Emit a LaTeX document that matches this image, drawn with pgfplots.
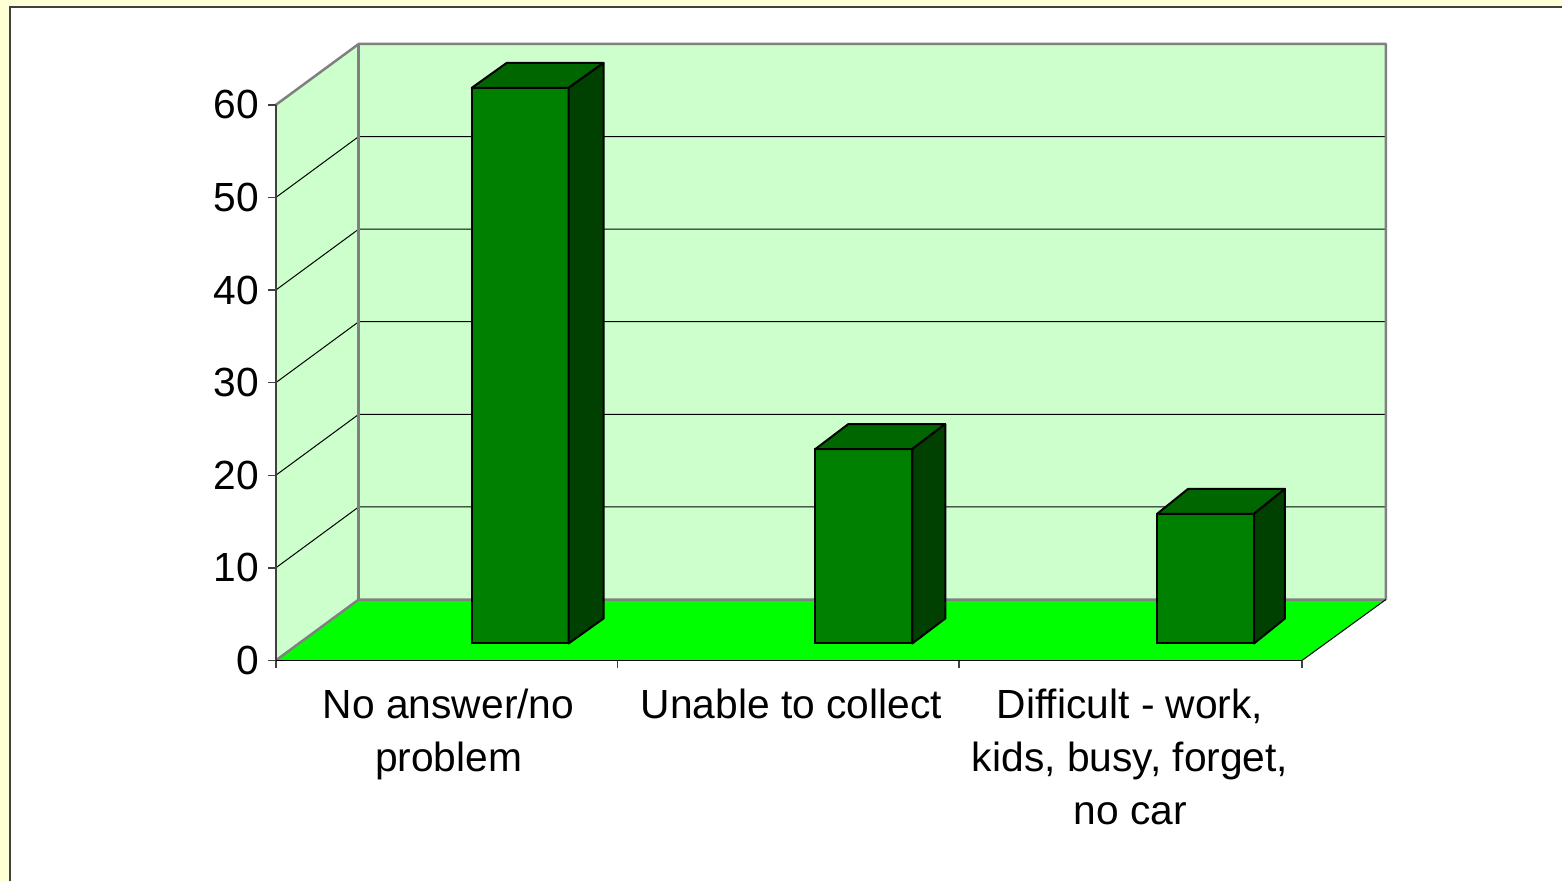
\documentclass[border=0pt]{standalone}
\usepackage{fontspec}
\setmainfont{Liberation Sans}
\usepackage{pgfplots}
\usepackage{pgfplotstable}
\pgfplotsset{compat=1.18}
\definecolor{bgyellow}{HTML}{FFFFD6}
\definecolor{frame}{HTML}{404040}
\definecolor{wall}{HTML}{CCFFCC}
\definecolor{walledge}{HTML}{808080}
\definecolor{floorgreen}{HTML}{00FF00}
\definecolor{barfront}{HTML}{008000}
\definecolor{bartop}{HTML}{006600}
\definecolor{barside}{HTML}{004000}

\pgfplotstableread{
x v dx
520.5 60 35
864.5 21 33
1206.5 14 31
}\bardata

\pgfdeclareplotmark{bar3d}{%
  \begin{pgfscope}%
  \pgfsetlinewidth{0.2mm}\pgfsetstrokecolor{black}\pgfsetroundjoin
  \pgfpathmoveto{\pgfpoint{-9.7mm}{0pt}}%
  \pgfpathlineto{\pgfpoint{0pt}{0pt}}%
  \pgfpathlineto{\pgfpoint{\ddx*0.1mm}{2.5mm}}%
  \pgfpathlineto{\pgfpoint{\ddx*0.1mm-9.7mm}{2.5mm}}%
  \pgfpathclose
  \pgfsetfillcolor{bartop}\pgfusepath{fill,stroke}%
  \pgfpathmoveto{\pgfpoint{0pt}{0pt}}%
  \pgfpathlineto{\pgfpoint{\ddx*0.1mm}{2.5mm}}%
  \pgfpathlineto{\pgfpoint{\ddx*0.1mm}{2.5mm-\val*0.92667mm}}%
  \pgfpathlineto{\pgfpoint{0pt}{-\val*0.92667mm}}%
  \pgfpathclose
  \pgfsetfillcolor{barside}\pgfusepath{fill,stroke}%
  \end{pgfscope}%
}

\begin{document}
\begin{tikzpicture}
% decoration: background, walls, floor, gridlines (pixel-like coordinates)
\begin{axis}[x=0.1mm, y=0.1mm, xmin=0, xmax=1563, ymin=0, ymax=882,
  hide axis, clip=false, anchor=south west, at={(0,0)}]
\addplot[fill=bgyellow, draw=none] coordinates {(0,0)(1563,0)(1563,882)(0,882)};
\addplot[fill=white, draw=none] coordinates {(10,0)(1563,0)(1563,875)(10,875)};
\addplot[draw=frame, line width=0.25mm] coordinates {(10,0)(10,875)(1563,875)};
\addplot[fill=wall, draw=none] coordinates {(359,838)(1387,838)(1387,282)(359,282)};
\addplot[fill=wall, draw=none] coordinates {(276,777)(359,838)(359,282)(276,221)};
\addplot[fill=floorgreen, draw=none] coordinates {(276,221)(359,282)(1387,282)(1303,221)};
\addplot[black, line width=0.1mm] coordinates {(276,313.67)(359,374.67)(1387,374.67)};
\addplot[black, line width=0.1mm] coordinates {(276,406.33)(359,467.33)(1387,467.33)};
\addplot[black, line width=0.1mm] coordinates {(276,499)(359,560)(1387,560)};
\addplot[black, line width=0.1mm] coordinates {(276,591.67)(359,652.67)(1387,652.67)};
\addplot[black, line width=0.1mm] coordinates {(276,684.33)(359,745.33)(1387,745.33)};
\addplot[walledge, line width=0.25mm, line join=round] coordinates {(276,777)(359,838)(1387,838)(1387,282)};
\addplot[walledge, line width=0.25mm] coordinates {(359,838)(359,282)};
\addplot[walledge, line width=0.25mm, line join=round] coordinates {(276,221)(359,282)(1387,282)};
\addplot[black, line width=0.1mm] coordinates {(1303,221)(1387,282)};
\end{axis}
% bars
\begin{axis}[at={(0,23.8mm)}, anchor=south west, scale only axis,
  width=156.3mm, height=55.6mm, xmin=0, xmax=1563, ymin=0, ymax=60,
  hide axis, clip=false]
\addplot[ybar, bar width=9.7mm, fill=barfront, draw=black, line width=0.2mm]
  table[x=x, y=v]{\bardata};
\addplot[only marks, mark=bar3d, scatter,
  scatter/@pre marker code/.code={}, scatter/@post marker code/.code={},
  visualization depends on={\thisrow{v}\as\val},
  visualization depends on={\thisrow{dx}\as\ddx}]
  table[x expr=\thisrow{x}+48.5, y=v]{\bardata};
\end{axis}
% front axes
\begin{axis}[at={(27.6mm,22.1mm)}, anchor=south west, scale only axis,
  width=102.7mm, height=55.6mm, xmin=276, xmax=1303, ymin=0, ymax=60,
  axis x line=bottom, axis y line=left, axis line style={-},
  x axis line style={black, line width=0.15mm},
  y axis line style={draw=frame, line width=0.15mm},
  ytick={0,10,...,60},
  xtick={276,618,960,1303}, xticklabels={},
  extra x ticks={449,792,1131},
  extra x tick labels={{No answer/no\\problem},{Unable to collect},{Difficult - work,\\kids, busy, forget,\\no car}},
  extra x tick style={major tick length=0pt},
  tick align=outside, major tick length=0.8mm,
  tick style={draw=frame, line width=0.15mm},
  ticklabel style={font=\fontsize{11.6}{15}\selectfont},
  xticklabel style={align=center, anchor=north, inner sep=0pt, yshift=-2.8mm},
  yticklabel style={anchor=east, inner sep=0pt, xshift=-0.8mm},
  /pgf/number format/assume math mode=true]
\end{axis}
\end{tikzpicture}
\end{document}
